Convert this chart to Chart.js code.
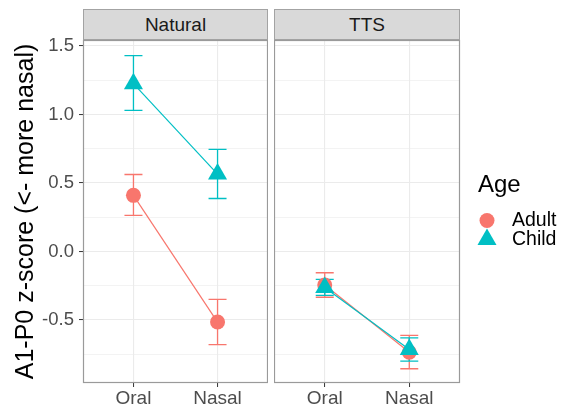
<!DOCTYPE html>
<html><head><meta charset="utf-8">
<script src="https://cdn.jsdelivr.net/npm/chart.js@4.4.1/dist/chart.umd.min.js"></script>
<style>
html,body{margin:0;padding:0;background:#fff;}
#wrap{position:relative;width:564px;height:407px;overflow:hidden;font-family:"Liberation Sans",Arial,sans-serif;background:#fff;}
.strip{position:absolute;top:9px;height:31px;box-sizing:border-box;background:#d9d9d9;border:1px solid #a3a3a3;
  color:#1a1a1a;font-size:19px;line-height:29px;text-align:center;}
.cv{position:absolute;top:0;}
</style>
</head><body>
<div id="wrap">
  <div class="strip" id="s1" style="left:83px;width:185px;"></div>
  <div class="strip" id="s2" style="left:274px;width:186px;"></div>
  <div class="cv" style="left:0;width:268px;height:407px;"><canvas id="c1"></canvas></div>
  <div class="cv" style="left:274px;width:290px;height:407px;"><canvas id="c2"></canvas></div>
</div>
<script>
// ---- data ----
const panels = ['Natural', 'TTS'];
const categories = ['Oral', 'Nasal'];
const groups = ['Adult', 'Child'];
const yTitle = 'A1-P0 z-score (<- more nasal)';
const legendTitle = 'Age';

const naturalAdultMean = [0.41, -0.515];
const naturalAdultLo   = [0.263, -0.68];
const naturalAdultHi   = [0.562, -0.35];
const naturalChildMean = [1.225, 0.565];
const naturalChildLo   = [1.03, 0.387];
const naturalChildHi   = [1.43, 0.745];

const ttsAdultMean = [-0.245, -0.735];
const ttsAdultLo   = [-0.334, -0.856];
const ttsAdultHi   = [-0.155, -0.613];
const ttsChildMean = [-0.263, -0.715];
const ttsChildLo   = [-0.321, -0.80];
const ttsChildHi   = [-0.204, -0.63];

const yMajorTicks  = [-0.5, 0, 0.5, 1, 1.5];
const yMajorLabels = ['-0.5', '0.0', '0.5', '1.0', '1.5'];
const yMinorTicks  = [-0.75, -0.25, 0.25, 0.75, 1.25];
const yMin = -0.96, yMax = 1.544;

// ---- styles ----
const FONT = '"Liberation Sans", Arial, sans-serif';
const colors = {Adult: '#F8766D', Child: '#00BFC4'};
const shapes = {Adult: 'circle', Child: 'triangle'};
const radii  = {Adult: 7.5, Child: 11};

document.getElementById('s1').textContent = panels[0];
document.getElementById('s2').textContent = panels[1];

const isMajor = v => yMajorTicks.some(m => Math.abs(m - v) < 1e-9);

function makeDatasets(aMean, aLo, aHi, cMean, cLo, cHi) {
  const mk = (name, mean, lo, hi, order) => ({
    label: name,
    data: mean.map((v, i) => ({x: i + 1, y: v})),
    errLo: lo, errHi: hi,
    showLine: true,
    borderColor: colors[name],
    borderWidth: 1.2,
    backgroundColor: colors[name],
    pointStyle: shapes[name],
    pointRadius: radii[name],
    pointHoverRadius: radii[name],
    pointBackgroundColor: colors[name],
    pointBorderWidth: 0,
    order: order
  });
  return [mk('Adult', aMean, aLo, aHi, 1), mk('Child', cMean, cLo, cHi, 0)];
}

const errPlugin = {
  id: 'errbars',
  beforeDatasetsDraw(chart) {
    const {ctx, scales: {x, y}} = chart;
    const half = 9;
    chart.data.datasets.forEach(ds => {
      ctx.save();
      ctx.strokeStyle = ds.borderColor;
      ctx.lineWidth = 1.3;
      ds.data.forEach((p, i) => {
        const px = x.getPixelForValue(p.x);
        const yl = y.getPixelForValue(ds.errLo[i]);
        const yh = y.getPixelForValue(ds.errHi[i]);
        ctx.beginPath();
        ctx.moveTo(px, yl); ctx.lineTo(px, yh);
        ctx.moveTo(px - half, yl); ctx.lineTo(px + half, yl);
        ctx.moveTo(px - half, yh); ctx.lineTo(px + half, yh);
        ctx.stroke();
      });
      ctx.restore();
    });
  }
};

const borderPlugin = {
  id: 'panelBorder',
  afterDraw(chart) {
    const {ctx, chartArea: a} = chart;
    ctx.save();
    ctx.strokeStyle = '#9a9a9a';
    ctx.lineWidth = 1.2;
    ctx.strokeRect(a.left + 0.5, a.top + 0.5, a.right - a.left - 1, a.bottom - a.top - 1);
    ctx.restore();
  }
};

const legendPlugin = {
  id: 'ageLegend',
  afterDraw(chart) {
    const ctx = chart.ctx;
    const ox = -274;
    ctx.save();
    ctx.fillStyle = '#000';
    ctx.font = '24px ' + FONT;
    ctx.textBaseline = 'alphabetic';
    ctx.textAlign = 'left';
    ctx.fillText(legendTitle, 478 + ox, 192);
    const cy = [220.5, 239.5];
    const ty = [221, 240];
    groups.forEach((g, i) => {
      ctx.fillStyle = colors[g];
      Chart.helpers.drawPoint(ctx, {pointStyle: shapes[g], radius: radii[g], rotation: 0, borderWidth: 0}, 487 + ox, cy[i]);
      ctx.fillStyle = '#000';
      ctx.font = '19.5px ' + FONT;
      ctx.textBaseline = 'middle';
      ctx.fillText(g, 512 + ox, ty[i]);
    });
    ctx.restore();
  }
};

function makeOptions(showY, padRight) {
  return {
    responsive: true,
    maintainAspectRatio: false,
    animation: false,
    events: [],
    layout: {autoPadding: false, padding: {top: 40, right: padRight, bottom: 0, left: 0}},
    plugins: {legend: {display: false}, tooltip: {enabled: false}},
    scales: {
      x: {
        type: 'linear',
        min: 0.4, max: 2.6,
        afterBuildTicks: s => { s.ticks = categories.map((c, i) => ({value: i + 1})); },
        afterFit: s => { s.height = 24; s.paddingLeft = 0; s.paddingRight = 0; },
        ticks: {
          autoSkip: false, maxRotation: 0,
          padding: 0,
          color: '#4d4d4d',
          font: {family: FONT, size: 19},
          callback: v => categories[Math.round(v) - 1]
        },
        grid: {color: '#ebebeb', lineWidth: 1.1, drawTicks: true, tickLength: 4, tickColor: '#333', tickWidth: 1},
        border: {display: false}
      },
      y: {
        display: showY,
        type: 'linear',
        min: yMin, max: yMax,
        afterBuildTicks: s => { s.ticks = yMinorTicks.concat(yMajorTicks).sort((a, b) => a - b).map(v => ({value: v})); },
        afterFit: s => { if (showY) s.width = 83; s.paddingTop = 0; s.paddingBottom = 0; },
        ticks: {
          autoSkip: false,
          padding: 5,
          color: '#4d4d4d',
          font: {family: FONT, size: 18.5},
          callback: v => { const k = yMajorTicks.findIndex(m => Math.abs(m - v) < 1e-9); return k >= 0 ? yMajorLabels[k] : ''; }
        },
        grid: {
          color: '#ebebeb',
          lineWidth: c => isMajor(c.tick.value) ? 1.1 : 0.6,
          drawTicks: true, tickLength: 4,
          tickColor: c => isMajor(c.tick.value) ? '#333' : 'rgba(0,0,0,0)',
          tickWidth: 1
        },
        border: {display: false},
        title: {
          display: showY,
          text: yTitle,
          color: '#000',
          font: {family: FONT, size: 25},
          padding: {top: 11, bottom: 0}
        }
      }
    }
  };
}

new Chart(document.getElementById('c1'), {
  type: 'scatter',
  data: {datasets: makeDatasets(naturalAdultMean, naturalAdultLo, naturalAdultHi, naturalChildMean, naturalChildLo, naturalChildHi)},
  options: makeOptions(true, 0),
  plugins: [errPlugin, borderPlugin]
});

const opt2 = makeOptions(false, 104);
opt2.scales.y.display = true;
opt2.scales.y.afterFit = s => { s.width = 0; s.paddingTop = 0; s.paddingBottom = 0; };
opt2.scales.y.ticks.display = false;
opt2.scales.y.grid.drawTicks = false;
opt2.scales.y.title.display = false;

new Chart(document.getElementById('c2'), {
  type: 'scatter',
  data: {datasets: makeDatasets(ttsAdultMean, ttsAdultLo, ttsAdultHi, ttsChildMean, ttsChildLo, ttsChildHi)},
  options: opt2,
  plugins: [errPlugin, borderPlugin, legendPlugin]
});
</script>
</body></html>
